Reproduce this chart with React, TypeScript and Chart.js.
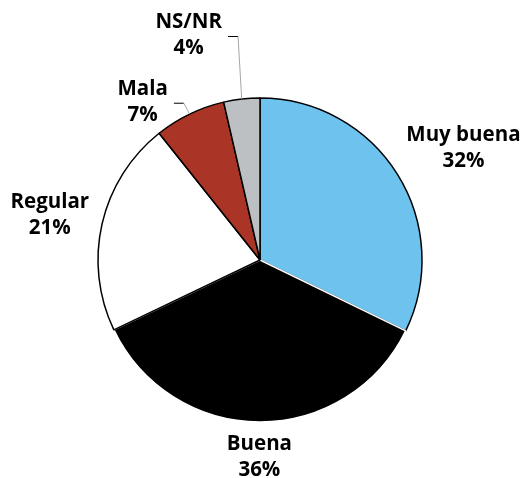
import React, { useEffect, useRef } from "react";
import { Chart, registerables } from "chart.js";

Chart.register(...registerables);

const categories = ["Muy buena", "Buena", "Regular", "Mala", "NS/NR"];
const values = [32.2, 35.7, 21.4, 7.1, 3.6];
const colors = ["#6EC3EE", "#000000", "#FFFFFF", "#AA3526", "#BCC0C3"];
const borderColors = ["#000000", "#FFFFFF", "#000000", "#000000", "#000000"];

// label placement: extra distance beyond the rim and angle shift (degrees)
const labelPad = [70, 35, 53, 35, 74];
const labelShift = [3.3, 0, -0.8, -10.8, -11.1];
const withLeader = [false, false, false, true, true];

const labelPlugin = {
  id: "pieLabels",
  afterDatasetsDraw(chart: any) {
    const ctx = chart.ctx;
    const meta = chart.getDatasetMeta(0);
    const total = values.reduce((a, b) => a + b, 0);
    ctx.save();
    ctx.font = "bold 20.5px 'Open Sans'";
    ctx.textAlign = "center";
    ctx.textBaseline = "middle";
    meta.data.forEach((arc: any, i: number) => {
      const { x, y, startAngle, endAngle, outerRadius } = arc.getProps(
        ["x", "y", "startAngle", "endAngle", "outerRadius"],
        true
      );
      const mid = (startAngle + endAngle) / 2;
      const a = mid + (labelShift[i] * Math.PI) / 180;
      const d = outerRadius + labelPad[i];
      const lx = x + Math.cos(a) * d;
      const ly = y + Math.sin(a) * d;
      const pct = Math.round((values[i] / total) * 100 + 1e-9) + "%";
      ctx.fillStyle = "#000";
      ctx.fillText(categories[i], lx, ly - 13);
      ctx.fillText(pct, lx, ly + 13);
      if (withLeader[i]) {
        const w = Math.max(ctx.measureText(categories[i]).width, ctx.measureText(pct).width);
        const sx = lx + w / 2 + 6;
        const ex = sx + 10;
        ctx.lineWidth = 1;
        ctx.strokeStyle = "#000";
        ctx.beginPath();
        ctx.moveTo(sx, ly + 1.5);
        ctx.lineTo(ex, ly + 1.5);
        ctx.stroke();
        ctx.strokeStyle = "#A6A6A6";
        ctx.beginPath();
        ctx.moveTo(ex, ly + 1.5);
        ctx.lineTo(x + Math.cos(mid) * outerRadius, y + Math.sin(mid) * outerRadius);
        ctx.stroke();
      }
    });
    ctx.restore();
  },
};

export default function App() {
  const ref = useRef<HTMLCanvasElement>(null);
  useEffect(() => {
    if (!ref.current) return;
    const chart = new Chart(ref.current, {
      type: "pie",
      data: {
        labels: categories,
        datasets: [
          {
            data: values,
            backgroundColor: colors,
            borderColor: borderColors,
            borderWidth: 1.5,
          },
        ],
      },
      options: {
        responsive: false,
        animation: false,
        radius: 162,
        layout: { padding: { left: 98, right: 104, top: 98, bottom: 56 } },
        plugins: {
          legend: { display: false },
          tooltip: { enabled: false },
        },
      },
      plugins: [labelPlugin],
    });
    return () => chart.destroy();
  }, []);
  return (
    <div style={{ position: "fixed", left: 0, top: 0, width: 526, height: 478, background: "#fff" }}>
      <canvas ref={ref} width={526} height={478} />
    </div>
  );
}
